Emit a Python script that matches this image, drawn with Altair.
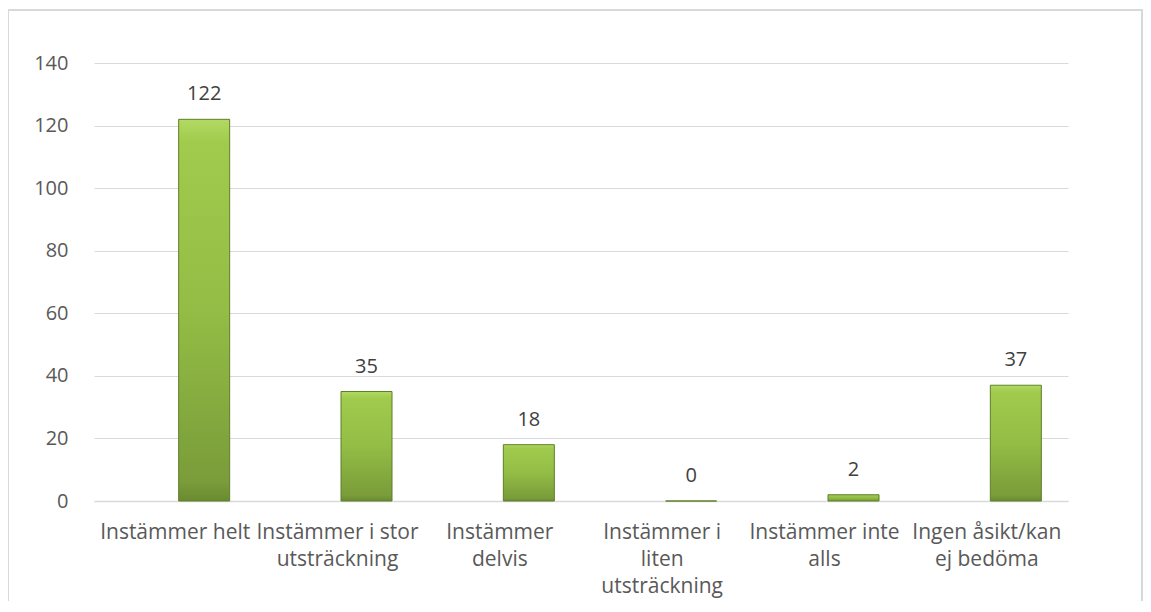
import altair as alt
import pandas as pd

categories = ["Instämmer helt", "Instämmer i stor utsträckning", "Instämmer delvis",
              "Instämmer i liten utsträckning", "Instämmer inte alls", "Ingen åsikt/kan ej bedöma"]
label_lines = [["Instämmer helt"], ["Instämmer i stor", "utsträckning"], ["Instämmer", "delvis"],
               ["Instämmer i", "liten", "utsträckning"], ["Instämmer inte", "alls"], ["Ingen åsikt/kan", "ej bedöma"]]
values = [122, 35, 18, 0, 2, 37]
y_ticks = [0, 20, 40, 60, 80, 100, 120, 140]

df = pd.DataFrame({"cat": categories, "val": values})

mapping = "{" + ",".join("'%s':[%s]" % (c, ",".join("'%s'" % l for l in ls))
                         for c, ls in zip(categories, label_lines)) + "}"

FONT = "Open Sans"
GRAY = "#595959"

x_enc = alt.X("cat:N", sort=categories, title=None,
              scale=alt.Scale(paddingInner=0, paddingOuter=0),
              axis=alt.Axis(labelAngle=0, labelExpr=mapping + "[datum.label]", labelFontSize=21,
                            labelColor=GRAY, labelFont=FONT, labelPadding=20, labelLineHeight=27,
                            ticks=False, domainColor="#d9d9d9", domainWidth=1.5, grid=False,
                            labelBaseline="top", labelLimit=300))
y_enc = alt.Y("val:Q", title=None, scale=alt.Scale(domain=[0, 140], nice=False),
              axis=alt.Axis(values=y_ticks, labelFontSize=20, labelColor=GRAY, labelFont=FONT,
                            labelPadding=26, ticks=False, domain=False, gridColor="#d9d9d9",
                            gridWidth=1.2))

grad = alt.Gradient(gradient="linear", x1=0, y1=0, x2=0, y2=1,
                    stops=[alt.GradientStop(color="#b2da63", offset=0),
                           alt.GradientStop(color="#a0cb4d", offset=0.06),
                           alt.GradientStop(color="#93bd45", offset=0.5),
                           alt.GradientStop(color="#7a9c3a", offset=0.95),
                           alt.GradientStop(color="#6a8a30", offset=1)])

bars = alt.Chart(df).mark_bar(size=51, xOffset=29, fill=grad, stroke="#5f7e28",
                              strokeWidth=1).encode(x=x_enc, y=y_enc)
labels = alt.Chart(df).mark_text(xOffset=29, dy=-19, baseline="alphabetic", fontSize=20,
                                 font=FONT, color="#404040").encode(
    x=alt.X("cat:N", sort=categories), y="val:Q", text="val:Q")

frame = alt.Chart(df).mark_rect(fill=None, stroke="#d9d9d9", strokeWidth=1.5).encode(
    x=alt.value(-86), x2=alt.value(1048), y=alt.value(-53), y2=alt.value(600))

chart = alt.layer(frame, bars, labels).properties(
    width=974, height=438,
    autosize=alt.AutoSizeParams(type="none"),
    padding={"left": 86, "top": 55, "right": 75, "bottom": 100},
).configure(background="white", view=alt.ViewConfig(stroke=None))

chart.save("out.html", embed_options={"renderer": "svg", "actions": False})
